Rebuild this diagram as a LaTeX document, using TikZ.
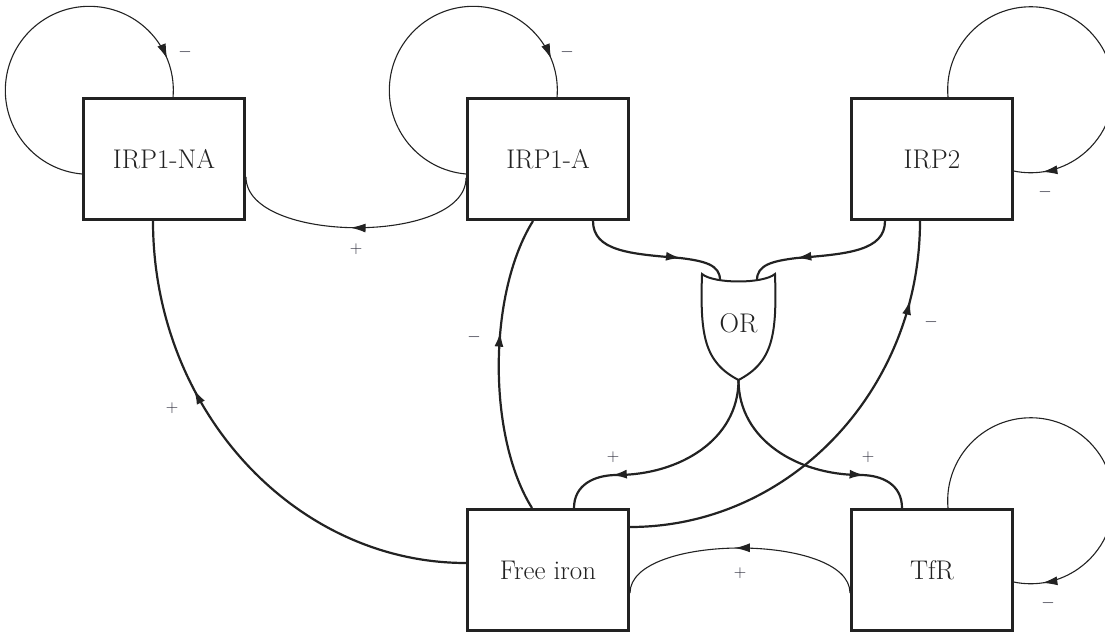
\documentclass[tikz,border=0pt]{standalone}
\usetikzlibrary{arrows.meta,decorations.markings}
\definecolor{ink}{HTML}{222222}
\definecolor{signink}{HTML}{2B2B3A}
\tikzset{
  block/.style={draw=ink, line width=3pt, minimum width=161pt, minimum height=121pt,
    inner sep=0pt, font=\fontsize{27}{30}\selectfont, text=ink},
  thinlink/.style={draw=ink, line width=1.1pt},
  thicklink/.style={draw=ink, line width=2.2pt},
  tipat/.style={postaction={decorate}, decoration={markings,
    mark=at position #1 with {\arrow{Latex[length=15pt,width=9pt]}}}},
  sign/.style={font=\fontsize{19}{21}\selectfont, text=signink, inner sep=0pt},
}
\begin{document}
\begin{tikzpicture}[x=1pt,y=1pt]
\clip (0,0) rectangle (1105,635);

% species
\node[block] (na) at (164,476) {IRP1-NA};
\node[block] (ia) at (548,476) {IRP1-A};
\node[block] (i2) at (932,476) {IRP2};
\node[block] (fe) at (548,65) {Free iron};
\node[block] (tf) at (932,65) {TfR};

% OR gate
\node[font=\fontsize{27}{30}\selectfont, text=ink, inner sep=0pt] (gate) at (738.5,312) {OR};
\draw[ink, line width=2pt, line join=miter]
  (702,361) .. controls (714,351) and (763,351) .. (775,361)
  .. controls (777,300) and (773,273) .. (738.5,255)
  .. controls (704,273) and (700,300) .. (702,361) -- cycle;
\coordinate (gateL) at (720,355);
\coordinate (gateR) at (757,355);
\coordinate (gateB) at (738.5,255);
\coordinate (joinA) at (680,377);
\coordinate (joinB) at (797,377);
\coordinate (joinFe) at (617,160);
\coordinate (joinTf) at (860,160);

% self-regulation loops
\draw[thinlink, tipat=0.9] ([yshift=-15pt]na.west) arc[start angle=265, end angle=-5, radius=84];
\draw[thinlink, tipat=0.9] ([yshift=-15pt]ia.west) arc[start angle=265, end angle=-5, radius=84];
\draw[thinlink, tipat=0.93] ([xshift=16pt]i2.north) arc[start angle=185, end angle=-102, radius=83];
\draw[thinlink, tipat=0.93] ([xshift=16pt]tf.north) arc[start angle=185, end angle=-102, radius=83];

% interactions
\draw[thinlink, tipat=0.52] ([yshift=-19pt]ia.west) .. controls +(0,-67) and +(0,-67) .. ([yshift=-18pt]na.east);
\draw[thicklink, tipat=0.66] ([yshift=7pt]fe.west) .. controls +(-172,0) and +(0,-188) .. ([xshift=-11pt]na.south);
\draw[thicklink, tipat=0.61] ([xshift=-16pt]fe.north) .. controls +(-45,72) and +(-45,-72) .. ([xshift=-15pt]ia.south);
\draw[thicklink, tipat=0.83] ([yshift=43pt]fe.east) .. controls +(160,0) and +(0,-169) .. ([xshift=-12pt]i2.south);
\draw[thinlink, tipat=0.52] ([yshift=-23pt]tf.west) .. controls +(0,60) and +(0,60) .. ([yshift=-23pt]fe.east);

% inputs and outputs of the OR gate
\draw[thicklink, tipat=0.68] ([xshift=45pt]ia.south) .. controls +(0,-30) and +(-50,4) .. (joinA)
  .. controls +(25,-3) and +(0,15) .. (gateL);
\draw[thicklink, tipat=0.68] ([xshift=-47pt]i2.south) .. controls +(0,-30) and +(50,4) .. (joinB)
  .. controls +(-25,-3) and +(0,15) .. (gateR);
\draw[thicklink, tipat=0.76] (gateB) .. controls +(0,-60) and +(62,0) .. (joinFe)
  .. controls +(-23,0) and +(0,23) .. ([xshift=26pt]fe.north);
\draw[thicklink, tipat=0.76] (gateB) .. controls +(0,-60) and +(-62,0) .. (joinTf)
  .. controls +(23,0) and +(0,23) .. ([xshift=-30pt]tf.north);

% signs
\node[sign] (s1) at (185,583) {$-$};
\node[sign] (s2) at (567,583) {$-$};
\node[sign] (s3) at (1045,443) {$-$};
\node[sign] (s4) at (1048,32) {$-$};
\node[sign] (s5) at (356,386) {$+$};
\node[sign] (s6) at (172,227) {$+$};
\node[sign] (s7) at (474,298) {$-$};
\node[sign] (s8) at (931,313) {$-$};
\node[sign] (s9) at (613,178) {$+$};
\node[sign] (s10) at (868,178) {$+$};
\node[sign] (s11) at (740,62) {$+$};
\end{tikzpicture}
\end{document}
